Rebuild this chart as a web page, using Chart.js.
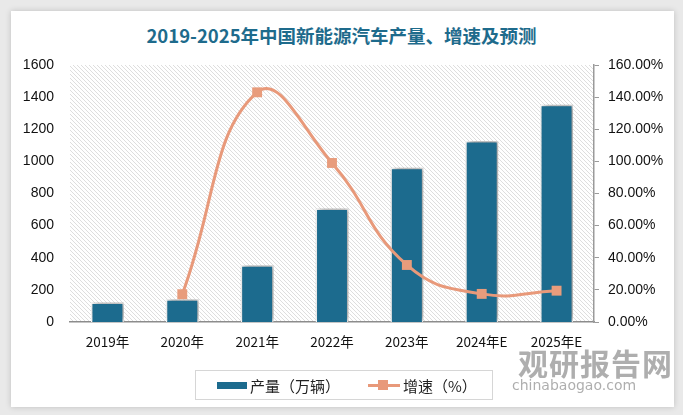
<!DOCTYPE html><html lang="zh">
<head>
  <meta charset="UTF-8">
  <title>2019-2025年中国新能源汽车产量、增速及预测</title>
  <script src="https://cdn.jsdelivr.net/npm/chart.js"></script>
  <style>
    body {
      margin: 0;
      width: 683px;
      height: 415px;
      background-color: #e9e9e9;
      font-family: 'Noto Sans CJK SC', 'Noto Sans', sans-serif;
      position: relative;
      overflow: hidden;
    }
    #card {
      position: absolute;
      left: 11px;
      top: 11px;
      width: 663px;
      height: 396px;
      background: #fff;
      box-shadow: 0 0 6px rgba(0,0,0,0.18);
    }
    #title {
      position: absolute;
      left: 0;
      top: 22px;
      width: 683px;
      text-align: center;
      font-family: 'Noto Sans CJK SC', sans-serif;
      font-weight: bold;
      font-size: 18.5px;
      color: #1e6b8c;
    }
    #chartBox {
      position: absolute;
      left: 0;
      top: 0;
      width: 683px;
      height: 415px;
    }
    .legend {
      position: absolute;
      left: 195px;
      top: 370px;
      width: 296px;
      height: 28px;
      border: 1px solid #d6d6d6;
      font-size: 15px;
      color: #222;
      display: flex;
      align-items: center;
    }
    .legend span { display: inline-block; }
    .swatch-bar {
      width: 30px; height: 7px; background: #1c6b8e;
      margin-left: 21px; margin-right: 3px;
    }
    .swatch-line {
      position: relative; width: 32px; height: 10px;
      margin-left: 28px; margin-right: 3px;
    }
    .swatch-line i {
      position: absolute; left: 0; top: 4px; width: 32px; height: 3px; background: #e8997a;
    }
    .swatch-line b {
      position: absolute; left: 10px; top: 0; width: 10px; height: 10px; background: #e8997a;
    }
    .watermark {
      position: absolute;
      color: #9a9a9a;
      opacity: 0.8;
    }
  </style>
</head>
<body>
  <div id="card"></div>
  <div id="title">2019-2025年中国新能源汽车产量、增速及预测</div>
  <div id="chartBox"><canvas id="nevChart" width="683" height="415"></canvas></div>
  <div class="legend">
    <span class="swatch-bar"></span><span>产量（万辆）</span>
    <span class="swatch-line"><i></i><b></b></span><span>增速（%）</span>
  </div>
  <div class="watermark" style="left:518px;top:340px;font-size:30px;font-weight:bold;letter-spacing:1px;">观研报告网</div>
  <div class="watermark" style="left:512px;top:377px;font-size:14px;font-family:'DejaVu Sans',sans-serif;">chinabaogao.com</div>
  <script>
    const years = ["2019年", "2020年", "2021年", "2022年", "2023年", "2024年E", "2025年E"];
    const output = [121, 141, 353, 707, 960, 1127, 1352];
    const growth = [null, 17.3, 143, 99, 35.5, 17.5, 19.5];
    const leftTicks = [0, 200, 400, 600, 800, 1000, 1200, 1400, 1600];
    const rightTicks = [0, 20, 40, 60, 80, 100, 120, 140, 160];

    function makeHatch() {
      const c = document.createElement("canvas");
      c.width = 4;
      c.height = 4;
      const g = c.getContext("2d");
      g.fillStyle = "#ffffff";
      g.fillRect(0, 0, 4, 4);
      g.strokeStyle = "#dedede";
      g.lineWidth = 1;
      g.beginPath();
      g.moveTo(-1, -1); g.lineTo(5, 5);
      g.moveTo(-1, 3); g.lineTo(1, 5);
      g.moveTo(3, -1); g.lineTo(5, 1);
      g.stroke();
      return g.createPattern(c, "repeat");
    }

    const hatchBg = {
      id: "hatchBg",
      beforeDraw(chart) {
        const a = chart.chartArea;
        const ctx = chart.ctx;
        ctx.save();
        ctx.fillStyle = makeHatch();
        ctx.fillRect(a.left, a.top, a.right - a.left, a.bottom - a.top);
        ctx.restore();
      },
      beforeDatasetDraw(chart, args) {
        if (args.index === 1) {
          chart.ctx.save();
          chart.ctx.shadowColor = "rgba(0,0,0,0.45)";
          chart.ctx.shadowBlur = 6;
          chart.ctx.shadowOffsetX = 2;
          chart.ctx.shadowOffsetY = -1;
        }
      },
      afterDatasetDraw(chart, args) {
        if (args.index === 1) chart.ctx.restore();
      }
    };

    new Chart(document.getElementById("nevChart"), {
      type: "bar",
      data: {
        labels: years,
        datasets: [{
          type: "line",
          label: "增速（%）",
          data: growth,
          yAxisID: "y1",
          borderColor: "#e8997a",
          backgroundColor: "#e8997a",
          borderWidth: 3,
          tension: 0.45,
          pointStyle: "rect",
          pointRadius: 7,
          pointHoverRadius: 7,
          pointBorderWidth: 0,
          pointBackgroundColor: "#e89c7c",
          order: 0
        }, {
          label: "产量（万辆）",
          data: output,
          yAxisID: "y",
          backgroundColor: "#1c6b8e",
          borderColor: "#ffffff",
          borderWidth: 1.5,
          barPercentage: 0.44,
          categoryPercentage: 1,
          order: 1
        }]
      },
      options: {
        responsive: false,
        animation: false,
        layout: { padding: { top: 65, left: 0, right: 0, bottom: 0 } },
        plugins: {
          legend: { display: false },
          title: { display: false },
          tooltip: { enabled: false }
        },
        scales: {
          x: {
            grid: { display: false, drawTicks: false },
            border: { display: true, color: "#8c8c8c", width: 1.5 },
            ticks: { color: "#111", font: { size: 13.5, family: "'Noto Sans CJK SC', sans-serif" }, padding: 12 },
            afterFit(axis) { axis.height = 93; }
          },
          y: {
            position: "left",
            min: 0,
            max: 1600,
            afterBuildTicks(axis) { axis.ticks = leftTicks.map(v => ({ value: v })); },
            grid: { display: false, drawTicks: false },
            border: { display: false },
            ticks: {
              color: "#111",
              font: { size: 14, family: "'Liberation Sans', sans-serif" },
              padding: 16,
              callback: v => String(v)
            },
            afterFit(axis) { axis.width = 70; }
          },
          y1: {
            position: "right",
            min: 0,
            max: 160,
            afterBuildTicks(axis) { axis.ticks = rightTicks.map(v => ({ value: v })); },
            grid: { display: true, drawOnChartArea: false, drawTicks: true, tickLength: 5, color: "#9a9a9a" },
            border: { display: true, color: "#9a9a9a", width: 1.5 },
            ticks: {
              color: "#111",
              font: { size: 14, family: "'Liberation Sans', sans-serif" },
              padding: 9,
              callback: v => v.toFixed(2) + "%"
            },
            afterFit(axis) { axis.width = 89; }
          }
        }
      },
      plugins: [hatchBg]
    });
  </script>
</body>
</html>
